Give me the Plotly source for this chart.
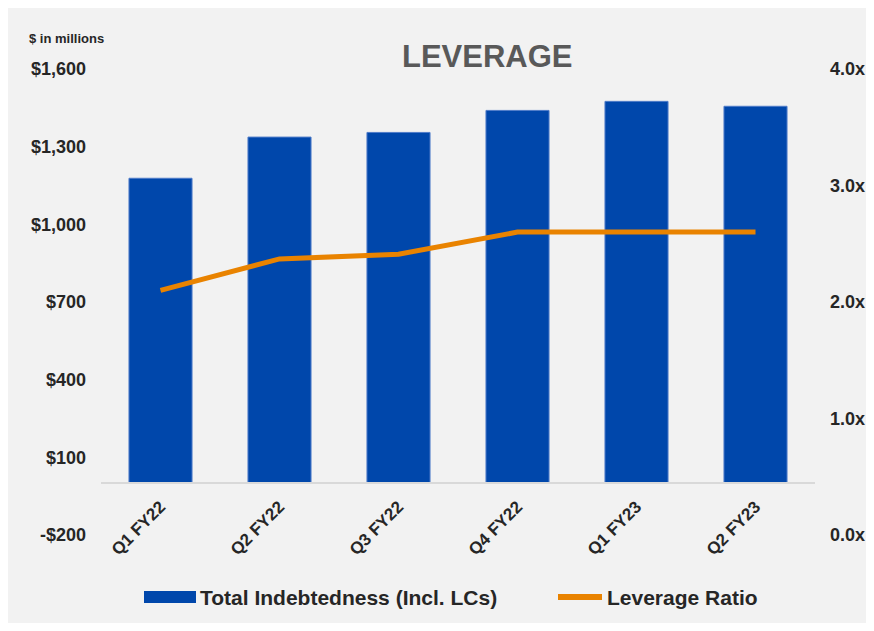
import plotly.graph_objects as go

categories = ["Q1 FY22", "Q2 FY22", "Q3 FY22", "Q4 FY22", "Q1 FY23", "Q2 FY23"]
indebtedness = [1178, 1337, 1355, 1440, 1475, 1456]
leverage = [2.10, 2.37, 2.41, 2.60, 2.60, 2.60]
left_ticks = [-200, 100, 400, 700, 1000, 1300, 1600]
left_labels = ["-$200", "$100", "$400", "$700", "$1,000", "$1,300", "$1,600"]
right_ticks = [0, 1, 2, 3, 4]
right_labels = ["0.0x", "1.0x", "2.0x", "3.0x", "4.0x"]

VW, VH = 874, 631   # viewport
O = 8               # page body margin
PL, PR, PT, PB = 101, 815, 69, 535  # plot area in viewport pixels
W, H = VW - 2 * O, VH - 2 * O
L, R, T, B = PL - O, (VW - O) - PR, PT - O, (VH - O) - PB
PW, PH = PR - PL, PB - PT

def px2x(px):
    return (px - PL) / PW

def px2y(py):
    return (PB - py) / PH

BLUE = "#0047AB"
ORANGE = "#E98300"
TXT = "#262626"
FONT = "Liberation Sans"

fig = go.Figure()
fig.add_trace(go.Bar(
    x=categories, y=indebtedness, name="Total Indebtedness (Incl. LCs)",
    marker=dict(color=BLUE, line=dict(color="#4f7cc9", width=1)),
    width=0.53, yaxis="y", showlegend=False,
))
fig.add_trace(go.Scatter(
    x=categories, y=leverage, name="Leverage Ratio", mode="lines",
    line=dict(color=ORANGE, width=5), yaxis="y2", showlegend=False,
))

fig.update_layout(
    width=W, height=H,
    margin=dict(l=L, r=R, t=T, b=B, pad=0, autoexpand=False),
    paper_bgcolor="#F2F2F2",
    plot_bgcolor="rgba(0,0,0,0)",
    font=dict(family=FONT, color=TXT, weight="bold"),
    xaxis=dict(
        type="category", anchor="free", position=200 / 1800, automargin=False,
        showline=True, linecolor="#D9D9D9", linewidth=2,
        showgrid=False, zeroline=False, ticks="",
        tickangle=-45, tickfont=dict(size=17, family=FONT, color=TXT, weight="bold"),
        ticklabelstandoff=6,
    ),
    yaxis=dict(
        range=[-200, 1600], tickvals=left_ticks, ticktext=left_labels, automargin=False,
        showgrid=False, zeroline=False, showline=False, ticks="",
        tickfont=dict(size=18, family=FONT, color=TXT, weight="bold"),
        ticklabelstandoff=14,
    ),
    yaxis2=dict(
        range=[0, 4], tickvals=right_ticks, ticktext=right_labels, automargin=False,
        overlaying="y", side="right", anchor="x",
        showgrid=False, zeroline=False, showline=False, ticks="",
        tickfont=dict(size=18, family=FONT, color=TXT, weight="bold"),
        ticklabelstandoff=14,
    ),
    shapes=[
        dict(type="rect", xref="paper", yref="paper",
             x0=px2x(144), x1=px2x(196), y0=px2y(603), y1=px2y(591),
             fillcolor=BLUE, line=dict(width=0)),
        dict(type="line", xref="paper", yref="paper",
             x0=px2x(558), x1=px2x(602), y0=px2y(597), y1=px2y(597),
             line=dict(color=ORANGE, width=6)),
    ],
    annotations=[
        dict(text="LEVERAGE", xref="paper", yref="paper", x=px2x(487), y=px2y(56),
             xanchor="center", yanchor="middle", showarrow=False,
             font=dict(size=31, color="#595959", family=FONT, weight="bold")),
        dict(text="$ in millions", xref="paper", yref="paper", x=px2x(27), y=px2y(38),
             xanchor="left", yanchor="middle", showarrow=False,
             font=dict(size=13, color=TXT, family=FONT, weight="bold")),
        dict(text="Total Indebtedness (Incl. LCs)", xref="paper", yref="paper",
             x=px2x(198), y=px2y(597), xanchor="left", yanchor="middle", showarrow=False,
             font=dict(size=21, color=TXT, family=FONT, weight="bold")),
        dict(text="Leverage Ratio", xref="paper", yref="paper",
             x=px2x(605), y=px2y(597), xanchor="left", yanchor="middle", showarrow=False,
             font=dict(size=21, color=TXT, family=FONT, weight="bold")),
    ],
)

fig.write_html("out.html")
